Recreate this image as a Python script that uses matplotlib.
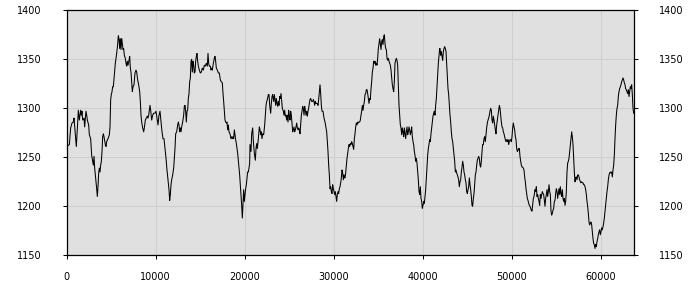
import matplotlib
matplotlib.use("Agg")
import matplotlib.pyplot as plt

x_vals = [
    0, 296, 445, 595, 745, 820, 895, 1007, 1082, 1194, 1307, 1419, 1569, 1644, 1719, 1794, 1943, 2018, 2093, 2168,
    2243, 2318, 2468, 2543, 2692, 2805, 2917, 2992, 3067, 3142, 3254, 3367, 3441, 3516, 3591, 3666, 3741, 3816, 3891, 3966,
    4041, 4116, 4190, 4340, 4415, 4490, 4640, 4790, 4865, 4939, 5014, 5089, 5164, 5239, 5351, 5464, 5539, 5614, 5688, 5801,
    5876, 5951, 6025, 6100, 6175, 6250, 6325, 6400, 6475, 6587, 6662, 6737, 6812, 6887, 6999, 7074, 7149, 7224, 7299, 7374,
    7449, 7561, 7673, 7786, 7861, 7973, 8085, 8198, 8273, 8348, 8423, 8535, 8647, 8722, 8834, 8947, 9059, 9134, 9209, 9359,
    9433, 9546, 9658, 9771, 9883,
    9921, 10033, 10146, 10258, 10370, 10483, 10595, 10707, 10820, 10932, 11045, 11157, 11269, 11382, 11494, 11569, 11644, 11719, 11794, 11906,
    12018, 12093, 12168, 12243, 12355, 12468, 12543, 12617, 12692, 12767, 12842, 12917, 13029, 13142, 13217, 13292, 13366, 13441, 13516, 13591,
    13666, 13741, 13816, 13891, 13966, 14041, 14115, 14190, 14265, 14340, 14415, 14490, 14565, 14640, 14715, 14790, 14902, 15014, 15127, 15239,
    15351, 15464, 15576, 15688, 15801, 15876, 15950, 16025, 16138, 16213, 16288, 16362, 16475, 16587, 16662, 16737, 16812, 16924, 17037, 17149,
    17261, 17374, 17486, 17561, 17636, 17711, 17786, 17860, 17935, 18010, 18085, 18160, 18235, 18347, 18460, 18535, 18610, 18684, 18759, 18834,
    18909, 18984, 19059, 19134, 19209, 19284, 19358, 19433, 19508, 19583, 19658, 19733, 19808, 19883, 19958, 20033, 20107, 20182, 20257, 20332,
    20407, 20482, 20557,
    20596, 20708, 20783, 20896, 20971, 21083, 21195, 21270, 21345, 21420, 21532, 21645, 21720, 21794, 21869, 21944, 22019, 22131, 22244, 22319,
    22394, 22469, 22543, 22656, 22731, 22806, 22918, 22993, 23068, 23143, 23255, 23330, 23405, 23480, 23555, 23629, 23704, 23779, 23854, 23929,
    24004, 24079, 24154, 24229, 24341, 24416, 24491, 24566, 24641, 24716, 24790, 24865, 24940, 25015, 25090, 25165, 25240, 25315, 25390, 25465,
    25539, 25614, 25689, 25764, 25839, 25914, 25989, 26064, 26139, 26214, 26288, 26363, 26438, 26513, 26588, 26663, 26738, 26813, 26888, 26963,
    27037, 27112, 27187, 27262, 27337, 27412, 27524, 27637, 27712, 27786, 27861, 27936, 28011, 28086, 28161, 28236, 28311, 28386, 28461, 28535,
    28610, 28685, 28798, 28910, 29022, 29135, 29210, 29284, 29359, 29434, 29509, 29584, 29659, 29734, 29809, 29884, 29959, 30033, 30108, 30183,
    30258, 30333, 30408, 30483, 30558, 30633, 30708, 30782, 30857, 30932, 31007, 31082, 31157, 31232,
    31270, 31345, 31420, 31495, 31570, 31645, 31719, 31794, 31869, 31944, 32019, 32094, 32169, 32244, 32319, 32394, 32468, 32543, 32618, 32693,
    32768, 32843, 32918, 32993, 33068, 33143, 33217, 33292, 33367, 33442, 33517, 33592, 33667, 33742, 33817, 33892, 33966, 34041, 34116, 34191,
    34266, 34341, 34416, 34491, 34566, 34641, 34715, 34790, 34865, 34940, 35015, 35090, 35165, 35240, 35315, 35390, 35464, 35539, 35614, 35689,
    35764, 35839, 35914, 35989, 36064, 36139, 36213, 36288, 36363, 36438, 36513, 36588, 36663, 36738, 36813, 36888, 36962, 37037, 37112, 37187,
    37262, 37337, 37412, 37487, 37562, 37637, 37711, 37786, 37861, 37936, 38011, 38086, 38161, 38236, 38311, 38386, 38460, 38535, 38610, 38685,
    38760, 38835, 38910, 38985, 39060, 39135, 39209, 39284, 39359, 39434, 39509, 39584, 39659, 39734, 39809, 39884, 39958, 40033, 40108, 40183,
    40258, 40333, 40408, 40483, 40558, 40633, 40707, 40782, 40857, 40932, 41007, 41082, 41157, 41232, 41307, 41382, 41456, 41531, 41606, 41681,
    41756, 41831, 41906,
    41944, 42019, 42094, 42169, 42244, 42319, 42393, 42468, 42543, 42618, 42693, 42768, 42843, 42918, 42993, 43068, 43142, 43217, 43292, 43367,
    43442, 43517, 43592, 43667, 43742, 43817, 43891, 43966, 44041, 44116, 44191, 44266, 44341, 44416, 44491, 44566, 44640, 44715, 44790, 44865,
    44940, 45015, 45090, 45165, 45240, 45315, 45389, 45464, 45539, 45614, 45689, 45764, 45839, 45914, 45989, 46064, 46138, 46213, 46288, 46363,
    46438, 46513, 46588, 46663, 46738, 46813, 46887, 46962, 47037, 47112, 47187, 47262, 47337, 47412, 47487, 47562, 47636, 47711, 47786, 47861,
    47936, 48011, 48086, 48161, 48236, 48311, 48385, 48460, 48535, 48610, 48685, 48760, 48835, 48910, 48985, 49060, 49134, 49209, 49284, 49359,
    49434, 49509, 49584, 49659, 49734, 49809, 49883, 49958, 50033, 50108, 50183, 50258, 50333, 50408, 50483, 50558, 50632, 50707, 50782, 50857,
    50932, 51007, 51082, 51157, 51232, 51307, 51381, 51456, 51531, 51606, 51681, 51756, 51831, 51906, 51981, 52056, 52130, 52205, 52280, 52355,
    52430, 52505, 52580,
    52618, 52693, 52768, 52843, 52918, 52993, 53067, 53142, 53217, 53292, 53367, 53442, 53517, 53592, 53667, 53742, 53816, 53891, 53966, 54041,
    54116, 54191, 54266, 54341, 54416, 54491, 54565, 54640, 54715, 54790, 54865, 54940, 55015, 55090, 55165, 55240, 55314, 55389, 55464, 55539,
    55614, 55689, 55764, 55839, 55914, 55989, 56063, 56138, 56213, 56288, 56363, 56438, 56513, 56588, 56663, 56738, 56812, 56887, 56962, 57037,
    57112, 57187, 57262, 57337, 57412, 57487, 57561, 57636, 57711, 57786, 57861, 57936, 58011, 58086, 58161, 58236, 58310, 58385, 58460, 58535,
    58610, 58685, 58760, 58835, 58910, 58985, 59059, 59134, 59209, 59284, 59359, 59434, 59509, 59584, 59659, 59734, 59808, 59883, 59958, 60033,
    60108, 60183, 60258, 60333, 60408, 60483, 60557, 60632, 60707, 60782, 60857, 60932, 61007, 61082, 61157, 61232, 61306, 61381, 61456, 61531,
    61606, 61681, 61756, 61831, 61906, 61981, 62055, 62130, 62205, 62280, 62355, 62430, 62505, 62580, 62655, 62730, 62804, 62879, 62954, 63029,
    63104, 63179, 63254, 63329, 63404, 63479, 63554, 63629, 63703,
]

y_vals = [
    1261, 1263, 1280, 1285, 1286, 1290, 1281, 1269, 1261, 1280, 1298, 1288, 1298, 1293, 1297, 1288, 1290, 1281, 1290, 1297,
    1293, 1288, 1283, 1273, 1269, 1252, 1246, 1242, 1251, 1239, 1229, 1218, 1210, 1220, 1234, 1239, 1235, 1242, 1246, 1256,
    1271, 1274, 1271, 1263, 1261, 1266, 1269, 1273, 1281, 1309, 1314, 1317, 1322, 1322, 1334, 1346, 1351, 1356, 1362, 1374,
    1371, 1361, 1371, 1360, 1371, 1366, 1360, 1361, 1354, 1351, 1346, 1343, 1348, 1344, 1349, 1353, 1341, 1337, 1327, 1317,
    1322, 1324, 1336, 1339, 1337, 1329, 1324, 1317, 1307, 1293, 1286, 1280, 1276, 1280, 1288, 1290, 1292, 1290, 1293, 1303,
    1298, 1288, 1293, 1295, 1295,
    1295, 1297, 1290, 1283, 1293, 1297, 1286, 1276, 1269, 1269, 1259, 1249, 1237, 1227, 1217, 1206, 1212, 1222, 1227, 1232,
    1239, 1249, 1259, 1274, 1276, 1283, 1286, 1283, 1276, 1280, 1276, 1281, 1286, 1293, 1302, 1303, 1297, 1286, 1297, 1298,
    1310, 1315, 1327, 1331, 1348, 1350, 1337, 1348, 1344, 1336, 1337, 1348, 1353, 1356, 1348, 1343, 1339, 1336, 1337, 1341,
    1339, 1344, 1343, 1346, 1343, 1356, 1346, 1343, 1343, 1339, 1341, 1339, 1346, 1351, 1353, 1348, 1341, 1339, 1336, 1336,
    1329, 1327, 1326, 1315, 1307, 1297, 1288, 1286, 1285, 1286, 1278, 1283, 1276, 1274, 1269, 1271, 1269, 1271, 1269, 1278,
    1273, 1268, 1264, 1259, 1254, 1247, 1239, 1232, 1222, 1212, 1201, 1188, 1203, 1217, 1205, 1212, 1218, 1222, 1229, 1235,
    1235, 1239, 1244,
    1263, 1256, 1274, 1280, 1266, 1254, 1247, 1259, 1264, 1259, 1269, 1281, 1278, 1273, 1276, 1269, 1274, 1273, 1283, 1293,
    1303, 1307, 1309, 1314, 1314, 1303, 1295, 1305, 1312, 1314, 1307, 1314, 1309, 1303, 1310, 1305, 1302, 1307, 1303, 1312,
    1310, 1315, 1307, 1300, 1297, 1293, 1298, 1292, 1293, 1288, 1293, 1286, 1298, 1292, 1288, 1297, 1293, 1285, 1276, 1278,
    1281, 1276, 1278, 1281, 1285, 1280, 1278, 1280, 1278, 1274, 1283, 1293, 1297, 1302, 1300, 1293, 1302, 1298, 1293, 1297,
    1292, 1297, 1300, 1305, 1309, 1310, 1307, 1307, 1309, 1307, 1303, 1307, 1305, 1305, 1305, 1303, 1309, 1317, 1324, 1315,
    1303, 1297, 1297, 1290, 1286, 1280, 1276, 1266, 1256, 1242, 1232, 1218, 1220, 1215, 1213, 1222, 1218, 1215, 1212, 1215,
    1210, 1205, 1212, 1215, 1213, 1218, 1220, 1224, 1229, 1237, 1234, 1227, 1232, 1229,
    1229, 1234, 1242, 1249, 1254, 1259, 1263, 1261, 1264, 1263, 1266, 1264, 1261, 1258, 1269, 1274, 1281, 1285, 1283, 1286,
    1285, 1286, 1286, 1288, 1293, 1297, 1303, 1298, 1303, 1307, 1314, 1315, 1319, 1319, 1315, 1310, 1305, 1310, 1309, 1320,
    1327, 1337, 1341, 1348, 1346, 1348, 1344, 1346, 1344, 1351, 1361, 1366, 1371, 1365, 1360, 1368, 1370, 1365, 1373, 1375,
    1366, 1361, 1360, 1351, 1349, 1351, 1348, 1346, 1344, 1339, 1332, 1324, 1320, 1317, 1327, 1346, 1349, 1351, 1349, 1344,
    1324, 1303, 1293, 1283, 1280, 1273, 1280, 1276, 1271, 1280, 1274, 1269, 1276, 1281, 1273, 1276, 1281, 1278, 1273, 1276,
    1281, 1271, 1266, 1263, 1256, 1252, 1246, 1249, 1244, 1235, 1227, 1215, 1212, 1220, 1208, 1205, 1198, 1201, 1205, 1203,
    1210, 1217, 1229, 1242, 1252, 1259, 1263, 1268, 1266, 1274, 1280, 1286, 1292, 1295, 1297, 1293, 1303, 1310, 1322, 1334,
    1346, 1353, 1361,
    1361, 1354, 1358, 1353, 1349, 1358, 1361, 1363, 1361, 1358, 1346, 1332, 1320, 1314, 1303, 1293, 1286, 1276, 1269, 1266,
    1259, 1252, 1246, 1235, 1237, 1234, 1232, 1230, 1227, 1220, 1225, 1227, 1235, 1240, 1246, 1242, 1235, 1232, 1227, 1224,
    1215, 1213, 1217, 1220, 1229, 1222, 1217, 1210, 1201, 1200, 1208, 1213, 1222, 1232, 1235, 1242, 1247, 1249, 1251, 1249,
    1242, 1240, 1246, 1256, 1263, 1263, 1269, 1271, 1266, 1273, 1280, 1285, 1288, 1290, 1293, 1297, 1300, 1298, 1288, 1285,
    1292, 1288, 1283, 1278, 1274, 1283, 1288, 1293, 1298, 1303, 1300, 1293, 1286, 1281, 1280, 1276, 1274, 1271, 1268, 1266,
    1268, 1266, 1268, 1263, 1266, 1268, 1268, 1266, 1271, 1280, 1285, 1281, 1278, 1271, 1268, 1259, 1256, 1257, 1259, 1259,
    1251, 1246, 1242, 1240, 1240, 1239, 1237, 1230, 1225, 1218, 1213, 1208, 1206, 1203, 1201, 1200, 1198, 1196, 1195, 1201,
    1208, 1210, 1215,
    1217, 1215, 1220, 1210, 1212, 1208, 1205, 1201, 1212, 1208, 1212, 1215, 1213, 1212, 1206, 1200, 1208, 1212, 1217, 1210,
    1215, 1222, 1215, 1212, 1195, 1191, 1193, 1196, 1198, 1205, 1206, 1213, 1218, 1215, 1208, 1213, 1218, 1212, 1220, 1213,
    1210, 1217, 1208, 1205, 1208, 1201, 1205, 1215, 1235, 1244, 1246, 1249, 1256, 1263, 1271, 1276, 1271, 1263, 1249, 1235,
    1225, 1229, 1230, 1227, 1232, 1232, 1230, 1227, 1225, 1224, 1225, 1224, 1224, 1222, 1222, 1220, 1217, 1212, 1205, 1200,
    1193, 1184, 1181, 1183, 1184, 1181, 1174, 1167, 1162, 1161, 1157, 1161, 1159, 1164, 1167, 1171, 1174, 1176, 1171, 1174,
    1178, 1176, 1179, 1183, 1188, 1195, 1201, 1208, 1215, 1220, 1227, 1232, 1234, 1235, 1234, 1235, 1230, 1237, 1242, 1252,
    1269, 1283, 1293, 1300, 1303, 1312, 1317, 1320, 1322, 1324, 1327, 1329, 1331, 1329, 1326, 1324, 1320, 1319, 1317, 1315,
    1319, 1312, 1317, 1322, 1320, 1324, 1314, 1300, 1295,
]

x_ticks = [0, 10000, 20000, 30000, 40000, 50000, 60000]
y_ticks = [1150, 1200, 1250, 1300, 1350, 1400]

fig = plt.figure(figsize=(7, 3), dpi=100)
ax = fig.add_axes([0.0953, 0.149, 0.8104, 0.8167])
ax.set_facecolor("#e0e0e0")
ax.plot(x_vals, y_vals, color="black", linewidth=0.75)
ax.set_xlim(0, 63740)
ax.set_ylim(1150, 1400)
ax.set_xticks(x_ticks)
ax.set_yticks(y_ticks)
ax.grid(True, color="#cfcfcf", linewidth=0.75)
ax.set_axisbelow(True)
ax.tick_params(axis="both", labelsize=7, direction="out", length=3, width=0.75, colors="black", pad=15)
ax.tick_params(axis="x", pad=9)
ax.tick_params(axis="y", which="both", right=True, labelright=True)
for s in ax.spines.values():
    s.set_linewidth(0.9)
    s.set_color("black")

fig.savefig("out.png", dpi=100, facecolor="white")
